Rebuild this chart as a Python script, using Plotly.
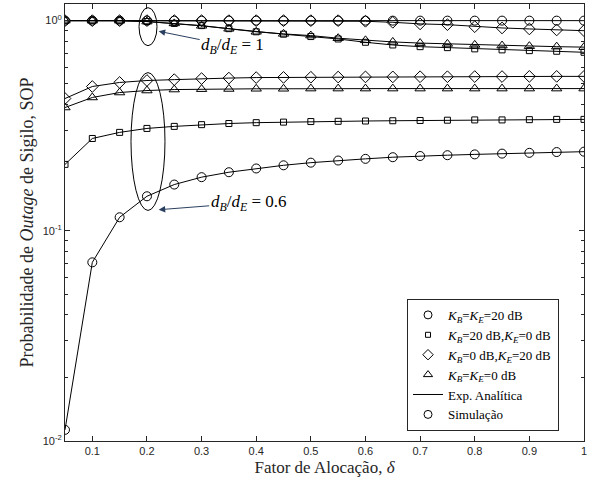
import math
import plotly.graph_objects as go

# Allocation factor
delta = [0.05, 0.10, 0.15, 0.20, 0.25, 0.30, 0.35, 0.40, 0.45, 0.50,
         0.55, 0.60, 0.65, 0.70, 0.75, 0.80, 0.85, 0.90, 0.95, 1.00]

# d_B/d_E = 0.6
sop06_kb20_ke20 = [0.0113, 0.0708, 0.116, 0.146, 0.166, 0.180, 0.190, 0.198, 0.205, 0.211,
                   0.216, 0.220, 0.224, 0.227, 0.229, 0.231, 0.233, 0.235, 0.237, 0.238]
sop06_kb20_ke0 = [0.207, 0.275, 0.294, 0.307, 0.314, 0.320, 0.324, 0.327, 0.329, 0.331,
                  0.332, 0.333, 0.334, 0.335, 0.336, 0.337, 0.337, 0.338, 0.339, 0.339]
sop06_kb0_ke20 = [0.426, 0.486, 0.508, 0.519, 0.524, 0.530, 0.533, 0.536, 0.537, 0.538,
                  0.539, 0.540, 0.540, 0.541, 0.541, 0.542, 0.542, 0.543, 0.543, 0.543]
sop06_kb0_ke0 = [0.386, 0.431, 0.455, 0.465, 0.470, 0.472, 0.473, 0.474, 0.474, 0.475,
                 0.475, 0.475, 0.475, 0.475, 0.475, 0.475, 0.475, 0.475, 0.475, 0.475]

# d_B/d_E = 1
sop1_kb20_ke20 = [1.0, 1.0, 1.0, 1.0, 1.0, 1.0, 1.0, 1.0, 1.0, 1.0,
                  1.0, 1.0, 1.0, 1.0, 1.0, 1.0, 1.0, 1.0, 1.0, 1.0]
sop1_kb20_ke0 = [1.0, 1.0, 1.0, 0.990, 0.970, 0.947, 0.916, 0.885, 0.862, 0.840,
                 0.818, 0.789, 0.766, 0.752, 0.744, 0.734, 0.726, 0.720, 0.715, 0.707]
sop1_kb0_ke20 = [1.0, 1.0, 1.0, 1.0, 1.0, 1.0, 1.0, 1.0, 1.0, 1.0,
                 1.0, 0.993, 0.982, 0.965, 0.957, 0.936, 0.923, 0.913, 0.903, 0.896]
sop1_kb0_ke0 = [1.0, 1.0, 1.0, 0.990, 0.970, 0.945, 0.915, 0.885, 0.865, 0.849,
                0.825, 0.806, 0.792, 0.782, 0.775, 0.767, 0.761, 0.756, 0.752, 0.748]

x_tickvals = [0.1, 0.2, 0.3, 0.4, 0.5, 0.6, 0.7, 0.8, 0.9, 1.0]
x_ticktext = ["0.1", "0.2", "0.3", "0.4", "0.5", "0.6", "0.7", "0.8", "0.9", "1"]
y_tickvals = [0.01, 0.1, 1]
y_ticktext = ["10<sup>-2</sup>", "10<sup>-1</sup>", "10<sup>0</sup>"]
y_minorvals = [0.02, 0.03, 0.04, 0.05, 0.06, 0.07, 0.08, 0.09,
               0.2, 0.3, 0.4, 0.5, 0.6, 0.7, 0.8, 0.9]

series_labels = ["<i>K<sub>B</sub></i>=<i>K<sub>E</sub></i>=20 dB",
                 "<i>K<sub>B</sub></i>=20 dB,<i>K<sub>E</sub></i>=0 dB",
                 "<i>K<sub>B</sub></i>=0 dB,<i>K<sub>E</sub></i>=20 dB",
                 "<i>K<sub>B</sub></i>=<i>K<sub>E</sub></i>=0 dB"]
symbols = ["circle-open", "square-open", "diamond-open", "triangle-up-open"]
sizes = [9, 6, 9, 9]

groups = [
    [sop06_kb20_ke20, sop06_kb20_ke0, sop06_kb0_ke20, sop06_kb0_ke0],
    [sop1_kb20_ke20, sop1_kb20_ke0, sop1_kb0_ke20, sop1_kb0_ke0],
]

fig = go.Figure()
serif = "Liberation Serif"
axcol = "#262626"

# analytical lines
for grp in groups:
    for ys in grp:
        fig.add_trace(go.Scatter(x=delta, y=ys, mode="lines",
                                 line=dict(color="black", width=1), showlegend=False,
                                 hoverinfo="skip"))
# simulation markers
for grp in groups:
    for ys, sym, sz in zip(grp, symbols, sizes):
        fig.add_trace(go.Scatter(x=delta, y=ys, mode="markers",
                                 marker=dict(symbol=sym, size=sz, color="black",
                                             line=dict(width=1, color="black")),
                                 showlegend=False))

# legend entries
for lab, sym, sz in zip(series_labels, symbols, sizes):
    fig.add_trace(go.Scatter(x=[None], y=[None], mode="markers", name=lab,
                             marker=dict(symbol=sym, size=sz - 1, color="black",
                                         line=dict(width=1, color="black"))))
fig.add_trace(go.Scatter(x=[None], y=[None], mode="lines", name="Exp. Analítica",
                         line=dict(color="black", width=1)))
fig.add_trace(go.Scatter(x=[None], y=[None], mode="markers", name="Simulação",
                         marker=dict(symbol="circle-open", size=8, color="black",
                                     line=dict(width=1, color="black"))))

# ellipses
fig.add_shape(type="circle", xref="x", yref="y", x0=0.1855, x1=0.2184,
              y0=1.153, y1=0.760, line=dict(color="black", width=1))
fig.add_shape(type="circle", xref="x", yref="y", x0=0.1708, x1=0.233,
              y0=0.566, y1=0.125, line=dict(color="black", width=1))

fig.add_annotation(x=0.2215, y=math.log10(0.89), xref="x", yref="y",
                   text="<i>d<sub>B</sub></i>/<i>d<sub>E</sub></i> = 1",
                   showarrow=True, arrowhead=2, arrowsize=1.3, arrowwidth=1,
                   ax=74, ay=15, font=dict(family=serif, size=17, color="black"))
fig.add_annotation(x=0.2215, y=math.log10(0.126), xref="x", yref="y",
                   text="<i>d<sub>B</sub></i>/<i>d<sub>E</sub></i> = 0.6",
                   showarrow=True, arrowhead=2, arrowsize=1.3, arrowwidth=1,
                   ax=90, ay=-7, font=dict(family=serif, size=17, color="black"))

axis_common = dict(showline=True, linecolor=axcol, linewidth=1, mirror="ticks",
                   ticks="inside", ticklen=5, tickcolor=axcol, showgrid=False,
                   zeroline=False, automargin=True,
                   tickfont=dict(family="Liberation Sans", size=11, color=axcol))

fig.update_xaxes(range=[0.05, 1.0], tickvals=x_tickvals, ticktext=x_ticktext,
                 title=dict(text="Fator de Alocação, <i>δ</i>", standoff=4,
                            font=dict(family=serif, size=17, color=axcol)),
                 **axis_common)
fig.update_yaxes(type="log", range=[-2, math.log10(1.2)],
                 tickvals=y_tickvals, ticktext=y_ticktext,
                 minor=dict(ticks="inside", ticklen=3, tickcolor=axcol, tickvals=y_minorvals),
                 title=dict(text="Probabilidade de <i>Outage</i> de Sigilo, SOP", standoff=4,
                            font=dict(family=serif, size=18, color=axcol)),
                 **axis_common)

fig.update_layout(
    width=597, height=488,
    margin=dict(l=65, r=13, t=4, b=47, autoexpand=False),
    plot_bgcolor="white", paper_bgcolor="white",
    legend=dict(x=0.659, y=0.023, xanchor="left", yanchor="bottom",
                bordercolor=axcol, borderwidth=1, bgcolor="white",
                font=dict(family=serif, size=13, color="black"),
                tracegroupgap=0, itemwidth=30),
)

fig.write_html("out.html", config={"displayModeBar": False},
               post_script="document.body.style.margin='0';")
